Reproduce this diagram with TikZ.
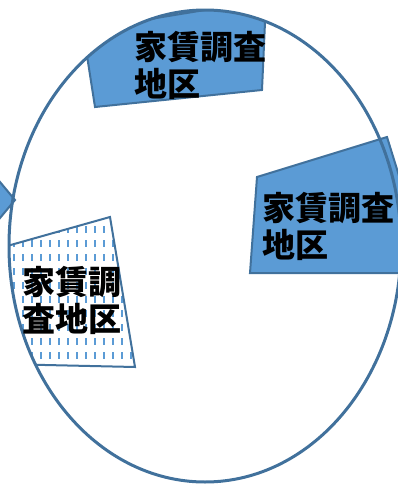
\documentclass[tikz,border=0pt]{standalone}
\usepackage{fontspec}
\newfontfamily\cjk{Noto Sans CJK JP}
\definecolor{areablue}{HTML}{5B9BD5}
\definecolor{lineblue}{HTML}{41719C}
\tikzstyle{area}=[fill=areablue,draw=lineblue,line width=2pt]
\tikzstyle{hatch}=[areablue,line width=2pt,dash pattern=on 7pt off 7pt]
\tikzstyle{outline}=[draw=lineblue,line width=2pt]
\tikzstyle{place}=[font=\cjk\bfseries\fontsize{33}{37}\selectfont,align=left,inner sep=0pt]

\begin{document}
\begin{tikzpicture}[x=1pt,y=-1pt]
    \useasboundingbox (0,0) rectangle (398,485);
    \draw[area] (-10,170) -- (15,200) -- (-10,230) -- cycle;
    \begin{scope}
        \clip (205,246) ellipse [x radius=196pt, y radius=236pt];
        \draw[area] (83,30) -- (95,107) -- (262,90) -- (266,0) -- cycle;
        \fill[white] (0,248) -- (110,217) -- (135,367) -- (0,364) -- cycle;
        \begin{scope}
            \clip (0,248) -- (110,217) -- (135,367) -- (0,364) -- cycle;
            \foreach \x in {14,23,...,140}
                \draw[hatch] (\x,212) -- (\x,380);
        \end{scope}
        \draw[outline] (0,248) -- (110,217) -- (135,367) -- (0,364) -- cycle;
    \end{scope}
    \draw[area] (257,177) -- (387,137) -- (405,195) -- (405,273) -- (250,273) -- cycle;
    \draw[lineblue,line width=3pt] (205,246) ellipse [x radius=196pt, y radius=236pt];
    \node[place] (toplabel) at (200,65) {家賃調査\\地区};
    \node[place] (eastlabel) at (328,226) {家賃調査\\地区};
    \node[place] (westlabel) at (72,300) {家賃調\\査地区};
\end{tikzpicture}
\end{document}
